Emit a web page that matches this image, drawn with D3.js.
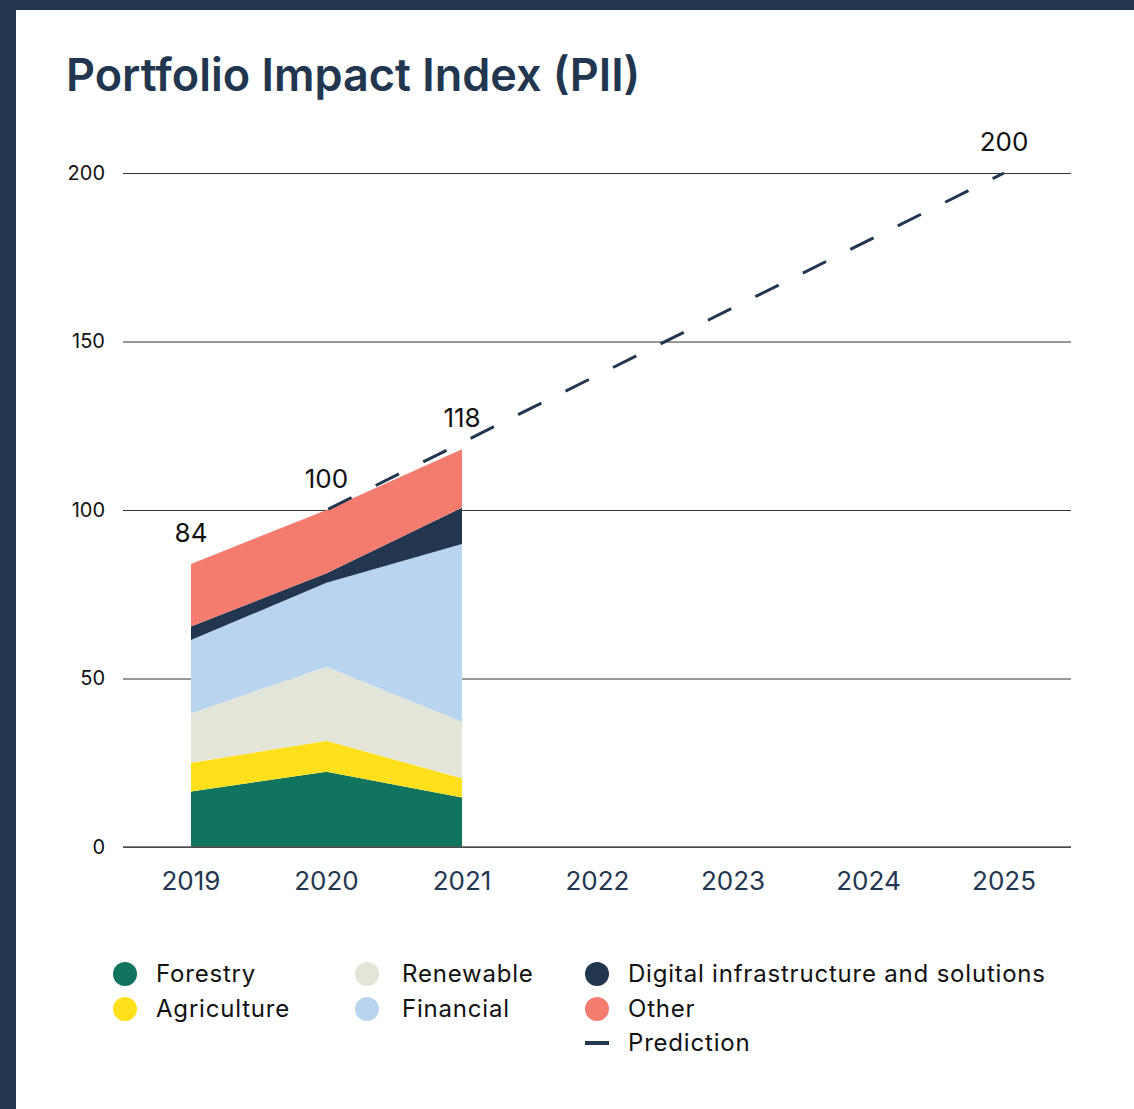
<!DOCTYPE html>
<html>
<head>
<meta charset="utf-8">
<script src="https://cdn.jsdelivr.net/npm/d3@7"></script>
<style>
  body { margin: 0; background: #22364f; }
  svg { display: block; }
  text { font-family: "Inter", "Noto Sans", sans-serif; }
</style>
</head>
<body>
<svg width="1134" height="1109"></svg>
<script>
'use strict';

const width = 1134, height = 1109;

const years = [2019, 2020, 2021, 2022, 2023, 2024, 2025];
const actualYears = [2019, 2020, 2021];
const sectors = ["Forestry", "Agriculture", "Renewable", "Financial", "Digital infrastructure and solutions", "Other"];
const colors = ["#10745f", "#ffe01b", "#e3e5d8", "#b9d4ef", "#22364f", "#f47c6f"];

const forestry    = [16.5, 22.3, 14.7];
const agriculture = [8.5, 9.2, 5.7];
const renewable   = [14.7, 22.0, 16.8];
const financial   = [21.7, 24.9, 52.7];
const digital     = [4.0, 2.8, 10.8];
const other       = [18.6, 18.8, 17.3];

const totalLabels = [84, 100, 118];
const predictionYears = [2020, 2025];
const predictionValues = [100, 200];
const yTicks = [0, 50, 100, 150, 200];

let rows = actualYears.map((y, i) => ({
  year: y,
  Forestry: forestry[i],
  Agriculture: agriculture[i],
  Renewable: renewable[i],
  Financial: financial[i],
  "Digital infrastructure and solutions": digital[i],
  Other: other[i]
}));

let svg = d3.select("svg").attr("viewBox", [0, 0, width, height]);

// frame
svg.append("rect")
  .attr("x", 16).attr("y", 10)
  .attr("width", width - 16).attr("height", height - 10)
  .attr("fill", "#fff");

svg.append("text")
  .attr("x", 66).attr("y", 91)
  .attr("fill", "#22364f")
  .attr("font-size", 45)
  .attr("font-weight", 600)
  .attr("letter-spacing", 0)
  .text("Portfolio Impact Index (PII)");

let x = d3.scalePoint().domain(years).range([191, 1004]);
let y = d3.scaleLinear().domain([0, 200]).range([847, 173]);

// grid
let grid = svg.append("g")
  .attr("transform", "translate(123,0)")
  .call(d3.axisLeft(y).tickValues(yTicks).tickSize(-(1071 - 123)).tickPadding(18));
grid.select(".domain").remove();
grid.selectAll(".tick line").attr("stroke", "#333").attr("stroke-width", 1);
grid.selectAll(".tick text")
  .attr("font-size", 20)
  .attr("fill", "#111")
  .attr("font-family", "Inter, sans-serif");

// stacked areas
let stack = d3.stack().keys(sectors);
let series = stack(rows);

let area = d3.area()
  .x(d => x(d.data.year))
  .y0(d => y(d[0]))
  .y1(d => y(d[1]));

svg.append("g")
  .selectAll("path")
  .data(series)
  .join("path")
    .attr("fill", (d, i) => colors[i])
    .attr("d", area);

// baseline over the areas
svg.append("line")
  .attr("x1", 123).attr("x2", 1071)
  .attr("y1", y(0)).attr("y2", y(0))
  .attr("stroke", "#555").attr("stroke-width", 1.5);

// prediction
let line = d3.line().x(d => x(d[0])).y(d => y(d[1]));
svg.append("path")
  .datum(d3.zip(predictionYears, predictionValues))
  .attr("d", line)
  .attr("fill", "none")
  .attr("stroke", "#22364f")
  .attr("stroke-width", 3)
  .attr("stroke-dasharray", "26 27")
  .attr("stroke-dashoffset", -2);

// value labels
let labelData = actualYears.map((yr, i) => [yr, totalLabels[i]]).concat([[2025, 200]]);
svg.append("g")
  .selectAll("text")
  .data(labelData)
  .join("text")
    .attr("x", d => x(d[0]))
    .attr("y", d => y(d[1]) - 22)
    .attr("text-anchor", "middle")
    .attr("font-size", 26)
    .attr("fill", "#111")
    .text(d => d[1]);

// x labels
svg.append("g")
  .selectAll("text")
  .data(years)
  .join("text")
    .attr("x", d => x(d))
    .attr("y", 890)
    .attr("text-anchor", "middle")
    .attr("font-size", 26)
    .attr("fill", "#22364f")
    .text(d => d);

// legend
const legendCols = [[125, 156], [367, 402], [597, 628]];
const legendRows = [974, 1009, 1043];
let legendItems = sectors.map((s, i) => ({
  name: s, color: colors[i],
  col: Math.floor(i / 2), row: i % 2, kind: "dot"
}));
legendItems.push({ name: "Prediction", color: "#22364f", col: 2, row: 2, kind: "dash" });

let leg = svg.append("g")
  .selectAll("g")
  .data(legendItems)
  .join("g")
    .attr("transform", d => `translate(0,${legendRows[d.row]})`);

leg.filter(d => d.kind === "dot").append("circle")
  .attr("cx", d => legendCols[d.col][0])
  .attr("r", 12)
  .attr("fill", d => d.color);

leg.filter(d => d.kind === "dash").append("line")
  .attr("x1", d => legendCols[d.col][0] - 12)
  .attr("x2", d => legendCols[d.col][0] + 12)
  .attr("stroke", d => d.color)
  .attr("stroke-width", 4);

leg.append("text")
  .attr("x", d => legendCols[d.col][1])
  .attr("dy", "0.35em")
  .attr("font-size", 24)
  .attr("letter-spacing", 0.8)
  .attr("fill", "#111")
  .text(d => d.name);
</script>
</body>
</html>
